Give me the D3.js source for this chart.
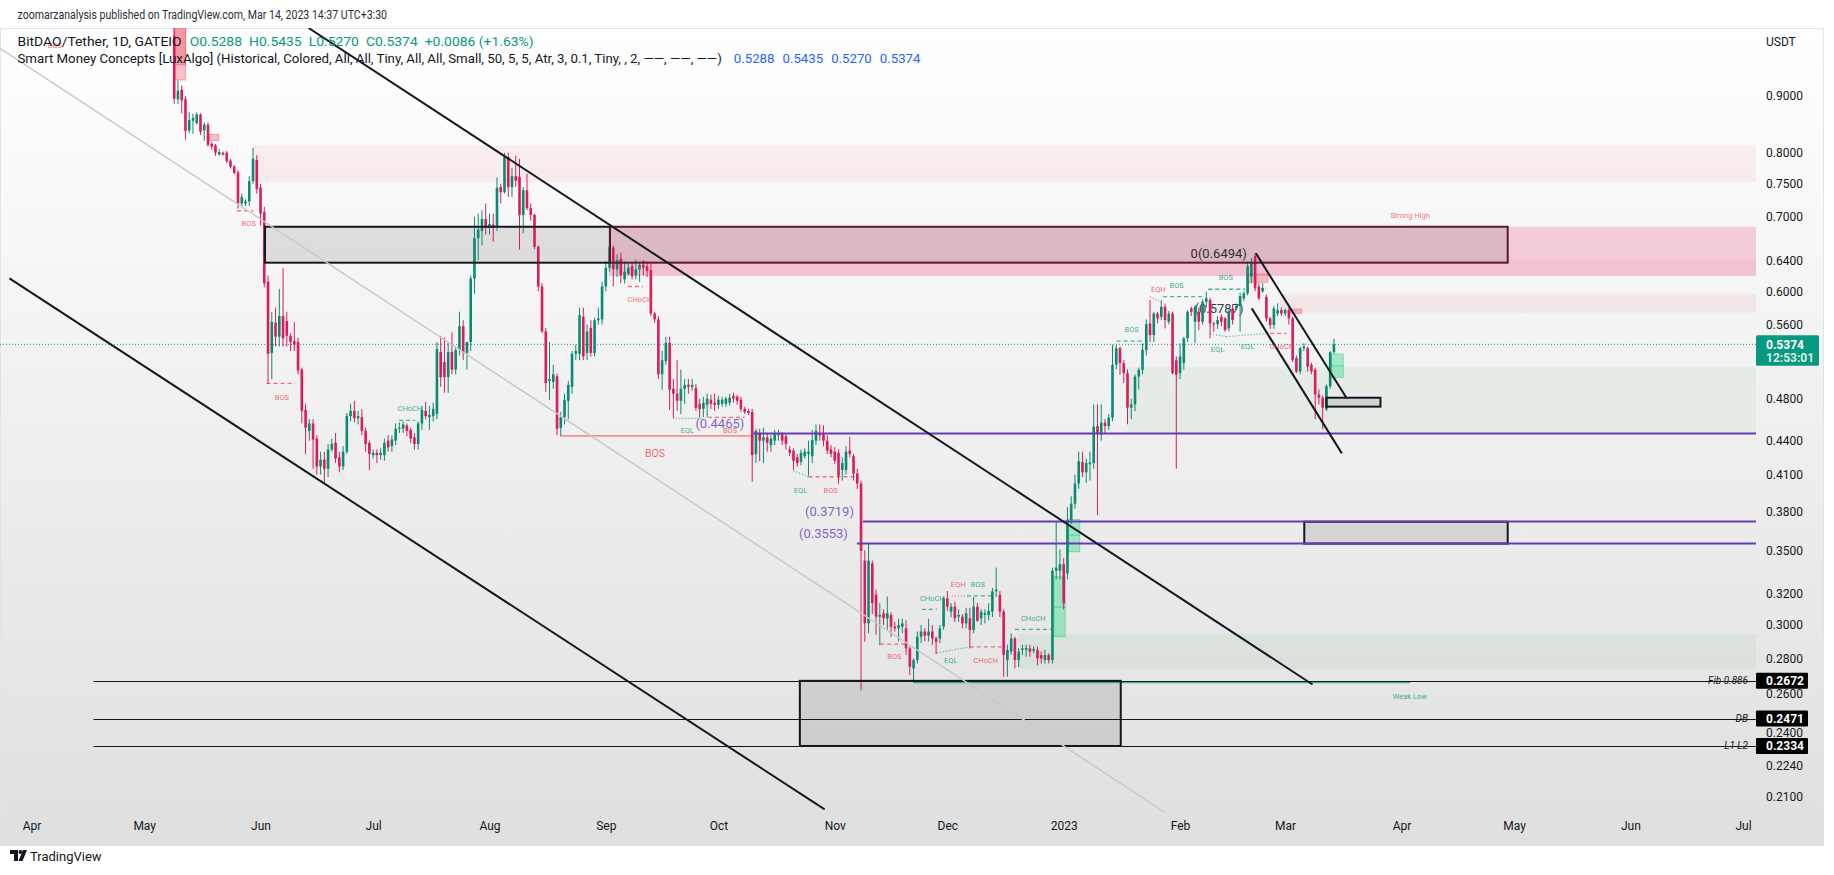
<!DOCTYPE html>
<html><head><meta charset="utf-8">
<script src="https://cdn.jsdelivr.net/npm/d3@7/dist/d3.min.js"></script>
<style>
html,body{margin:0;padding:0;background:#fff;}
svg{display:block;}
text{font-family:Roboto,"Noto Sans",Arial,sans-serif;}
</style></head><body>
<svg id="chart" width="1834" height="875"></svg>
<script>
// ---------------- DATA ----------------
const startDate = "2022-05-09";           // first daily bar
// daily candles [open, high, low, close]
const ohlc = [
[1.02,1.08,0.885,0.895],[0.894,0.93,0.885,0.91],[0.912,0.92,0.868,0.892],[0.894,0.90,0.822,0.837],[0.838,0.87,0.833,0.856],
[0.855,0.868,0.832,0.86],[0.851,0.87,0.848,0.866],[0.866,0.868,0.83,0.836],[0.838,0.852,0.82,0.848],[0.848,0.852,0.81,0.813],
[0.815,0.818,0.805,0.81],[0.812,0.815,0.795,0.80],[0.797,0.806,0.795,0.801],[0.80,0.802,0.795,0.797],[0.80,0.803,0.783,0.786],
[0.787,0.79,0.774,0.777],[0.777,0.78,0.765,0.767],[0.768,0.772,0.712,0.72],[0.72,0.735,0.715,0.73],[0.72,0.726,0.716,0.723],
[0.723,0.762,0.716,0.754],[0.754,0.808,0.75,0.79],[0.788,0.796,0.735,0.742],[0.744,0.75,0.688,0.705],[0.707,0.715,0.605,0.61],
[0.612,0.62,0.495,0.527],[0.528,0.575,0.50,0.563],[0.562,0.58,0.535,0.546],[0.546,0.603,0.535,0.57],[0.57,0.63,0.535,0.544],
[0.564,0.575,0.535,0.547],[0.547,0.55,0.53,0.54],[0.541,0.563,0.53,0.537],[0.54,0.545,0.505,0.509],[0.51,0.512,0.456,0.468],
[0.469,0.475,0.428,0.452],[0.449,0.46,0.44,0.456],[0.456,0.46,0.415,0.441],[0.442,0.445,0.41,0.417],[0.417,0.43,0.41,0.423],
[0.423,0.43,0.403,0.415],[0.415,0.437,0.408,0.432],[0.432,0.442,0.43,0.437],[0.438,0.447,0.42,0.424],[0.425,0.43,0.412,0.417],
[0.417,0.435,0.414,0.43],[0.43,0.466,0.428,0.463],[0.463,0.475,0.458,0.468],[0.468,0.478,0.457,0.461],[0.461,0.468,0.455,0.463],
[0.462,0.47,0.445,0.449],[0.449,0.452,0.43,0.437],[0.438,0.44,0.414,0.428],[0.427,0.432,0.424,0.429],[0.429,0.432,0.42,0.427],
[0.427,0.433,0.423,0.429],[0.427,0.442,0.422,0.438],[0.44,0.445,0.43,0.434],[0.435,0.445,0.43,0.441],[0.44,0.456,0.436,0.451],
[0.451,0.457,0.447,0.452],[0.451,0.458,0.447,0.455],[0.454,0.456,0.444,0.449],[0.45,0.452,0.438,0.442],[0.443,0.447,0.432,0.437],
[0.437,0.458,0.432,0.456],[0.456,0.473,0.45,0.469],[0.468,0.477,0.46,0.463],[0.462,0.473,0.45,0.464],[0.463,0.476,0.458,0.47],
[0.465,0.54,0.46,0.532],[0.529,0.547,0.492,0.502],[0.518,0.545,0.486,0.502],[0.502,0.54,0.486,0.529],[0.529,0.551,0.505,0.51],
[0.51,0.535,0.505,0.531],[0.531,0.575,0.525,0.558],[0.558,0.565,0.52,0.528],[0.528,0.535,0.51,0.54],[0.54,0.62,0.53,0.616],
[0.616,0.70,0.597,0.67],[0.67,0.705,0.64,0.682],[0.68,0.71,0.66,0.697],[0.697,0.72,0.675,0.685],[0.685,0.705,0.675,0.69],
[0.689,0.705,0.665,0.684],[0.686,0.76,0.68,0.744],[0.745,0.75,0.72,0.737],[0.737,0.80,0.735,0.793],[0.793,0.80,0.73,0.745],
[0.745,0.775,0.73,0.762],[0.762,0.795,0.745,0.755],[0.761,0.79,0.654,0.703],[0.703,0.745,0.677,0.74],[0.74,0.766,0.71,0.713],
[0.713,0.72,0.695,0.703],[0.703,0.705,0.655,0.658],[0.658,0.66,0.60,0.606],[0.606,0.61,0.55,0.552],[0.552,0.556,0.487,0.496],
[0.498,0.54,0.479,0.50],[0.497,0.515,0.49,0.505],[0.503,0.506,0.445,0.451],[0.452,0.467,0.4443,0.462],[0.462,0.485,0.455,0.479],
[0.478,0.498,0.46,0.494],[0.492,0.53,0.485,0.527],[0.527,0.537,0.52,0.53],[0.527,0.58,0.52,0.571],[0.569,0.58,0.52,0.524],
[0.528,0.56,0.52,0.552],[0.556,0.565,0.524,0.528],[0.528,0.568,0.524,0.565],[0.565,0.58,0.56,0.567],[0.566,0.612,0.56,0.606],
[0.606,0.638,0.60,0.63],[0.63,0.688,0.625,0.658],[0.657,0.66,0.606,0.628],[0.628,0.648,0.618,0.64],[0.642,0.65,0.61,0.62],
[0.615,0.638,0.61,0.625],[0.622,0.636,0.62,0.63],[0.632,0.637,0.615,0.619],[0.62,0.641,0.615,0.628],[0.628,0.637,0.612,0.634],
[0.634,0.64,0.62,0.63],[0.632,0.638,0.618,0.626],[0.627,0.635,0.57,0.573],[0.573,0.575,0.562,0.566],[0.566,0.57,0.50,0.505],
[0.505,0.53,0.489,0.52],[0.519,0.546,0.515,0.539],[0.539,0.546,0.469,0.489],[0.49,0.50,0.461,0.485],[0.485,0.52,0.468,0.478],
[0.478,0.51,0.465,0.49],[0.49,0.50,0.475,0.494],[0.494,0.50,0.485,0.492],[0.492,0.50,0.488,0.494],[0.491,0.495,0.468,0.471],
[0.475,0.48,0.462,0.47],[0.47,0.482,0.462,0.476],[0.474,0.485,0.462,0.48],[0.479,0.484,0.47,0.475],[0.476,0.485,0.468,0.474],
[0.474,0.483,0.47,0.479],[0.475,0.482,0.472,0.479],[0.475,0.482,0.472,0.48],[0.476,0.485,0.473,0.481],[0.483,0.486,0.476,0.48],
[0.482,0.484,0.474,0.478],[0.479,0.482,0.467,0.47],[0.47,0.472,0.465,0.467],[0.468,0.47,0.464,0.466],[0.467,0.47,0.404,0.427],
[0.428,0.451,0.42,0.449],[0.447,0.451,0.4215,0.44],[0.44,0.452,0.42,0.443],[0.443,0.446,0.43,0.438],[0.436,0.445,0.43,0.442],
[0.44,0.45,0.436,0.446],[0.445,0.45,0.44,0.447],[0.446,0.448,0.436,0.44],[0.444,0.446,0.432,0.437],[0.432,0.435,0.426,0.429],
[0.431,0.433,0.414,0.422],[0.425,0.428,0.417,0.42],[0.421,0.432,0.418,0.429],[0.426,0.433,0.424,0.43],[0.428,0.44,0.409,0.43],
[0.426,0.45,0.42,0.4405],[0.44,0.455,0.436,0.449],[0.447,0.455,0.44,0.445],[0.446,0.454,0.435,0.44],[0.44,0.445,0.428,0.431],
[0.432,0.436,0.425,0.428],[0.43,0.434,0.419,0.422],[0.429,0.432,0.402,0.409],[0.414,0.425,0.405,0.42],[0.414,0.435,0.41,0.43],
[0.431,0.4435,0.425,0.428],[0.426,0.428,0.405,0.411],[0.411,0.415,0.398,0.4025],[0.4025,0.405,0.262,0.35],[0.343,0.3505,0.2898,0.3011],
[0.3011,0.3555,0.295,0.343],[0.341,0.343,0.307,0.314],[0.3195,0.323,0.294,0.3053],[0.3053,0.3139,0.2878,0.3064],[0.3074,0.31,0.30,0.3042],
[0.3042,0.3184,0.297,0.3074],[0.3064,0.308,0.2928,0.299],[0.299,0.302,0.296,0.298],[0.298,0.304,0.29,0.30],[0.299,0.304,0.295,0.301],
[0.298,0.303,0.2819,0.2858],[0.2858,0.287,0.2704,0.2752],[0.2742,0.28,0.2662,0.279],[0.279,0.296,0.277,0.2928],[0.2928,0.30,0.289,0.296],
[0.296,0.298,0.29,0.2935],[0.2935,0.304,0.29,0.296],[0.296,0.30,0.288,0.2918],[0.2918,0.293,0.2824,0.2898],[0.2918,0.30,0.289,0.298],
[0.299,0.3184,0.297,0.3172],[0.3172,0.322,0.309,0.3117],[0.3085,0.314,0.305,0.3117],[0.3117,0.315,0.302,0.3042],[0.3053,0.31,0.302,0.3064],
[0.3053,0.307,0.298,0.3011],[0.3011,0.311,0.298,0.3074],[0.3042,0.311,0.2858,0.297],[0.297,0.318,0.295,0.3117],[0.3117,0.314,0.302,0.3027],
[0.3042,0.31,0.30,0.3085],[0.3064,0.31,0.301,0.3074],[0.3064,0.314,0.303,0.309],[0.3085,0.324,0.305,0.3217],[0.3217,0.338,0.318,0.323],
[0.3195,0.322,0.305,0.3085],[0.3085,0.31,0.2695,0.2819],[0.279,0.288,0.2695,0.2849],[0.2839,0.295,0.282,0.2918],[0.2918,0.2928,0.2742,0.279],
[0.279,0.286,0.275,0.2839],[0.2849,0.288,0.282,0.2858],[0.285,0.288,0.281,0.286],[0.2858,0.288,0.281,0.2839],[0.2845,0.287,0.283,0.2855],
[0.2849,0.287,0.276,0.28],[0.2819,0.284,0.277,0.28],[0.279,0.285,0.277,0.2819],[0.2819,0.283,0.277,0.279],[0.279,0.338,0.277,0.3358],
[0.3358,0.3717,0.33,0.338],[0.3358,0.351,0.33,0.3405],[0.3405,0.345,0.31,0.3139],[0.334,0.3833,0.33,0.3733],[0.3733,0.392,0.37,0.386],
[0.386,0.41,0.382,0.4025],[0.4025,0.43,0.398,0.4215],[0.421,0.43,0.408,0.412],[0.412,0.424,0.403,0.42],[0.419,0.43,0.405,0.4205],
[0.42,0.4744,0.415,0.453],[0.4536,0.4744,0.377,0.446],[0.446,0.4744,0.44,0.4567],[0.4567,0.46,0.446,0.4536],[0.4536,0.465,0.45,0.4615],
[0.4615,0.537,0.458,0.515],[0.515,0.5367,0.51,0.533],[0.533,0.535,0.5044,0.5168],[0.5168,0.52,0.496,0.5062],[0.5062,0.51,0.4552,0.4712],
[0.4712,0.48,0.46,0.4744],[0.4744,0.505,0.4679,0.5027],[0.5027,0.512,0.4893,0.5097],[0.5097,0.5385,0.505,0.5312],[0.5312,0.566,0.525,0.5603],
[0.5613,0.5891,0.54,0.5479],[0.5479,0.575,0.54,0.5729],[0.5729,0.575,0.5613,0.5671],[0.569,0.5891,0.565,0.581],[0.581,0.585,0.5555,0.5652],
[0.5632,0.576,0.56,0.5729],[0.5729,0.575,0.505,0.5062],[0.52,0.524,0.415,0.5044],[0.5062,0.5385,0.50,0.524],[0.5168,0.546,0.5097,0.5441],
[0.5441,0.577,0.54,0.575],[0.579,0.581,0.57,0.575],[0.5632,0.583,0.5385,0.581],[0.575,0.58,0.5536,0.5632],[0.5632,0.59,0.56,0.5871],
[0.5871,0.5995,0.58,0.5912],[0.5891,0.592,0.5441,0.5613],[0.5613,0.5632,0.5517,0.5603],[0.5603,0.57,0.555,0.5652],[0.569,0.572,0.558,0.5632],
[0.5671,0.569,0.5517,0.5536],[0.5555,0.578,0.552,0.575],[0.579,0.583,0.56,0.5652],[0.579,0.585,0.577,0.5818],[0.5818,0.598,0.5517,0.594],
[0.5912,0.60,0.588,0.5974],[0.5974,0.6384,0.595,0.632],[0.6185,0.643,0.61,0.636],[0.646,0.6494,0.60,0.6037],[0.6058,0.61,0.5891,0.5912],
[0.6,0.61,0.598,0.604],[0.593,0.596,0.5632,0.5671],[0.5671,0.569,0.555,0.5594],[0.5594,0.582,0.555,0.579],[0.5729,0.585,0.57,0.577],
[0.577,0.58,0.57,0.5729],[0.5729,0.579,0.57,0.577],[0.577,0.58,0.56,0.5671],[0.5671,0.569,0.518,0.5204],[0.5222,0.525,0.5062,0.5079],
[0.5079,0.535,0.505,0.533],[0.533,0.5385,0.53,0.5349],[0.533,0.535,0.5079,0.5132],[0.515,0.517,0.505,0.5079],[0.5097,0.512,0.4599,0.4843],
[0.4843,0.4893,0.4743,0.481],[0.481,0.483,0.4505,0.4712],[0.4695,0.4945,0.4679,0.4927],[0.4927,0.53,0.49,0.5288],[0.5288,0.5435,0.527,0.5374]
];
const xDomain = ["2022-03-23T14:00:00Z", "2023-07-04T11:00:00Z"];
const yDomain = [1.0365, 0.2035];
const monthTicks = ["2022-04-01","2022-05-01","2022-06-01","2022-07-01","2022-08-01","2022-09-01","2022-10-01","2022-11-01","2022-12-01","2023-01-01","2023-02-01","2023-03-01","2023-04-01","2023-05-01","2023-06-01","2023-07-01"];
const monthLabels = ["Apr","May","Jun","Jul","Aug","Sep","Oct","Nov","Dec","2023","Feb","Mar","Apr","May","Jun","Jul"];
const yTicks = [0.9,0.8,0.75,0.7,0.64,0.6,0.56,0.48,0.44,0.41,0.38,0.35,0.32,0.3,0.28,0.26,0.24,0.224,0.21];
const lastPrice = 0.5374, countdown = "12:53:01";
const headerText = "zoomarzanalysis published on TradingView.com, Mar 14, 2023 14:37 UTC+3:30";
const symbolText = "BitDAO/Tether, 1D, GATEIO";
const ohlcTexts = ["O0.5288","H0.5435","L0.5270","C0.5374","+0.0086 (+1.63%)"];
const indicatorText = "Smart Money Concepts [LuxAlgo] (Historical, Colored, All, All, Tiny, All, All, Small, 50, 5, 5, Atr, 3, 0.1, Tiny, , 2, \u2014\u2014, \u2014\u2014, \u2014\u2014)";
const indicatorValues = ["0.5288","0.5435","0.5270","0.5374"];
// SMC zones (bar index b1 .. b2 (null = extend right), price top/bottom)
const zones = [
 {b1:20.9, b2:null, top:0.8125, bot:0.7527, kind:"supplyLight"},
 {b1:294.6,b2:null, top:0.597,  bot:0.574,  kind:"supplyLight"},
 {b1:115.8,b2:null, top:0.686,  bot:0.6195, kind:"supply"},
 {b1:115.8,b2:null, top:0.641,  bot:0.6195, kind:"supply2"},
 {b1:224.8,b2:null, top:0.2945, bot:0.2738, kind:"demand"},
 {b1:254.1,b2:null, top:0.5129, bot:0.4465, kind:"demand"}
];
const fvgs = [
 {b1:234.4,b2:237.4,top:0.3317,bot:0.2928,mid:0.3114},
 {b1:238.0,b2:241.3,top:0.3736,bot:0.3493,mid:0.3616},
 {b1:308.4,b2:311.5,top:0.5267,bot:0.5018,mid:0.5139}
];
const orderBlocks = [
 {b1:-0.05,b2:3.06,top:1.04,bot:0.9304},
 {b1:-0.05,b2:3.06,top:1.04,bot:0.96},
 {b1:9.35,b2:11.86,top:0.8312,bot:0.8203},
 {b1:285.8,b2:291.4,top:0.6219,bot:0.6113},
 {b1:297.1,b2:300.4,top:0.5783,bot:0.5731}
];
// user rectangles
const boxes = [
 {b1:24.2, b2:116.1,top:0.686, bot:0.6367,stroke:"#131722"},
 {b1:116.1,b2:355.3,top:0.686, bot:0.6367,stroke:"#5a1a2c"},
 {b1:301.1,b2:355.3,top:0.3718,bot:0.3553,stroke:"#131722"},
 {b1:166.7,b2:252.2,top:0.2672,bot:0.2334,stroke:"#131722"},
 {b1:307.0,b2:321.4,top:0.481, bot:0.4722,stroke:"#131722"}
];
// user trend lines
const trendlines = [
 {b1:35.8, p1:1.0365,b2:303.3,p2:0.2652,kind:"black"},
 {b1:-43.9,p1:0.6162,b2:173.3,p2:0.2046,kind:"black"},
 {b1:-46.4,p1:0.9937,b2:263.7,p2:0.2036,kind:"grey"},
 {b1:288.2,p1:0.6492,b2:312.4,p2:0.4804,kind:"black"},
 {b1:287.1,p1:0.5791,b2:311.1,p2:0.4285,kind:"black"}
];
const levels = [
 {p:0.2672,b1:-21.5,label:"Fib 0.886"},
 {p:0.2471,b1:-21.5,label:"DB"},
 {p:0.2334,b1:-21.5,label:"L1 L2"}
];
const purpleLevels = [
 {p:0.4465,b1:154.3,label:"(0.4465)"},
 {p:0.3719,b1:183.5,label:"(0.3719)"},
 {p:0.3553,b1:181.9,label:"(0.3553)"}
];
const fibTexts = [
 {t:"0(0.6494)",b:285.8,p:0.6494,front:true},
 {t:"(0.5787)", b:284.9,p:0.5787,front:false}
];
// SMC structure lines
const structs = [
 {b1:16.8, b2:21.1, p1:0.7092,p2:0.7092,c:"bear",s:"dash"},
 {b1:24.6, b2:32.2, p1:0.4956,p2:0.4956,c:"bear",s:"dash"},
 {b1:59.9, b2:64.2, p1:0.459, p2:0.459, c:"bull",s:"dash"},
 {b1:120.9,b2:124.9,p1:0.606, p2:0.606, c:"bear",s:"dash"},
 {b1:102.8,b2:154.3,p1:0.4443,p2:0.4443,c:"bear",s:"solid"},
 {b1:133,  b2:141,  p1:0.4609,p2:0.4609,c:"bull",s:"dot"},
 {b1:142.2,b2:152,  p1:0.4618,p2:0.4618,c:"bear",s:"dash"},
 {b1:165,  b2:169,  p1:0.4133,p2:0.4082,c:"bull",s:"dot"},
 {b1:169,  b2:181.4,p1:0.4082,p2:0.4082,c:"bear",s:"dash"},
 {b1:188.1,b2:195.2,p1:0.2884,p2:0.2884,c:"bear",s:"dash"},
 {b1:199.2,b2:203.2,p1:0.3099,p2:0.3099,c:"bull",s:"dash"},
 {b1:207.2,b2:210.7,p1:0.3188,p2:0.3188,c:"bear",s:"dot"},
 {b1:211.2,b2:217.8,p1:0.3188,p2:0.3188,c:"bull",s:"dash"},
 {b1:203.2,b2:212,  p1:0.2832,p2:0.2867,c:"bull",s:"dot"},
 {b1:212,  b2:220.9,p1:0.2867,p2:0.2867,c:"bear",s:"dash"},
 {b1:224,  b2:233.8,p1:0.2973,p2:0.2973,c:"bull",s:"dash"},
 {b1:196.9,b2:329.3,p1:0.2662,p2:0.2662,c:"bull",s:"solid"},
 {b1:115.8,b2:329.3,p1:0.686, p2:0.686, c:"bear",s:"solid"},
 {b1:251.1,b2:258.2,p1:0.5411,p2:0.5411,c:"bull",s:"dash"},
 {b1:260,  b2:263.6,p1:0.5933,p2:0.585, c:"bear",s:"dot"},
 {b1:263.5,b2:273.8,p1:0.5933,p2:0.5933,c:"bull",s:"dash"},
 {b1:275.5,b2:285.3,p1:0.6025,p2:0.6025,c:"bull",s:"dash"},
 {b1:276,  b2:280.4,p1:0.549, p2:0.546, c:"bull",s:"dot"},
 {b1:280.4,b2:291,  p1:0.546, p2:0.5498,c:"bull",s:"dot"},
 {b1:292,  b2:296.4,p1:0.5498,p2:0.5498,c:"bear",s:"dash"}
];
const smcLabels = [
 {t:"BOS",b:-31.8,p:1.0006,c:"bear"},
 {t:"BOS",b:19.85,p:0.691,c:"bear"},
 {t:"BOS",b:28.7,p:0.4814,c:"bear"},
 {t:"CHoCH",b:62.8,p:0.4705,c:"bull"},
 {t:"CHoCH",b:124.1,p:0.59,c:"bear"},
 {t:"BOS",b:128.1,p:0.4285,c:"bear",big:true},
 {t:"EQL",b:136.7,p:0.4491,c:"bull"},
 {t:"BOS",b:148.1,p:0.4491,c:"bear"},
 {t:"EQL",b:166.9,p:0.3971,c:"bull"},
 {t:"BOS",b:174.9,p:0.3971,c:"bear"},
 {t:"BOS",b:191.9,p:0.2809,c:"bear"},
 {t:"CHoCH",b:202,p:0.3174,c:"bull"},
 {t:"EQH",b:208.9,p:0.3266,c:"bear"},
 {t:"BOS",b:214.1,p:0.3266,c:"bull"},
 {t:"EQL",b:206.9,p:0.2789,c:"bull"},
 {t:"CHoCH",b:216.2,p:0.2789,c:"bear"},
 {t:"CHoCH",b:228.9,p:0.3043,c:"bull"},
 {t:"Weak Low",b:329.2,p:0.2589,c:"bull"},
 {t:"Strong High",b:329.3,p:0.7019,c:"bear"},
 {t:"BOS",b:255.1,p:0.5543,c:"bull"},
 {t:"EQH",b:262.2,p:0.6025,c:"bear"},
 {t:"BOS",b:267.1,p:0.6074,c:"bull"},
 {t:"BOS",b:280.2,p:0.6176,c:"bull"},
 {t:"EQL",b:278,p:0.5319,c:"bull"},
 {t:"EQL",b:286,p:0.5347,c:"bull"},
 {t:"CHoCH",b:295.1,p:0.5347,c:"bear"}
];

// ---------------- LAYOUT / STYLE ----------------
const plotL=0, plotR=1756, plotT=28, plotB=812, frameR=1823, frameB=845;
const UP="#0a8a70", DN="#dc1a5c";
const BULL="rgba(8,153,129,0.8)", BEAR="rgba(242,54,69,0.75)";
const TXT="#131722";

const svg=d3.select("#chart");
const defs=svg.append("defs");
const grad=defs.append("linearGradient").attr("id","bg").attr("x1",0).attr("y1",0).attr("x2",0).attr("y2",1);
grad.append("stop").attr("offset","0%").attr("stop-color","#ffffff");
grad.append("stop").attr("offset","100%").attr("stop-color","#dfdfdf");
defs.append("clipPath").attr("id","clip").append("rect")
  .attr("x",plotL).attr("y",plotT).attr("width",plotR-plotL).attr("height",plotB-plotT);

svg.append("rect").attr("x",0.5).attr("y",plotT+0.5).attr("width",frameR).attr("height",frameB-plotT)
  .attr("fill","url(#bg)").attr("stroke","#e0e3eb");

const x=d3.scaleTime().domain(xDomain.map(s=>new Date(s))).range([plotL,plotR]);
const y=d3.scaleLog().domain(yDomain).range([plotT,plotB]);
const DAY=86400000, t0=Date.parse(startDate+"T00:00:00Z");
const bx=b=> b===null ? plotR : x(new Date(t0+b*DAY));

const plot=svg.append("g").attr("clip-path","url(#clip)");

// zones
const zoneFill={supplyLight:"rgba(242,54,69,0.07)",supply:"rgba(233,30,99,0.2)",supply2:"rgba(233,30,99,0.05)",demand:"rgba(76,175,80,0.07)"};
plot.append("g").selectAll("rect").data(zones).join("rect")
  .attr("x",d=>bx(d.b1)).attr("y",d=>y(d.top)).attr("width",d=>bx(d.b2)-bx(d.b1)).attr("height",d=>y(d.bot)-y(d.top))
  .attr("fill",d=>zoneFill[d.kind]);

// user boxes fill
plot.append("g").selectAll("rect").data(boxes).join("rect")
  .attr("x",d=>bx(d.b1)).attr("y",d=>y(d.top)).attr("width",d=>bx(d.b2)-bx(d.b1)).attr("height",d=>y(d.bot)-y(d.top))
  .attr("fill","rgba(120,120,120,0.2)");

// fvg boxes
const fg=plot.append("g");
fg.selectAll("rect").data(fvgs).join("rect")
  .attr("x",d=>bx(d.b1)).attr("y",d=>y(d.top)).attr("width",d=>bx(d.b2)-bx(d.b1)).attr("height",d=>y(d.bot)-y(d.top))
  .attr("fill","rgba(0,220,110,0.33)").attr("stroke","rgba(0,190,100,0.45)").attr("stroke-width",0.8);
fg.selectAll("line").data(fvgs).join("line")
  .attr("x1",d=>bx(d.b1)).attr("x2",d=>bx(d.b2)).attr("y1",d=>y(d.mid)).attr("y2",d=>y(d.mid))
  .attr("stroke","rgba(0,190,100,0.5)").attr("stroke-width",1);

// order blocks
plot.append("g").selectAll("rect").data(orderBlocks).join("rect")
  .attr("x",d=>bx(d.b1)).attr("y",d=>y(d.top)).attr("width",d=>bx(d.b2)-bx(d.b1)).attr("height",d=>y(d.bot)-y(d.top))
  .attr("fill","rgba(242,54,69,0.3)").attr("stroke","rgba(242,54,69,0.45)").attr("stroke-width",0.8);

// fib text behind candles
const fibG=plot.append("g");
fibG.selectAll("text").data(fibTexts.filter(d=>!d.front)).join("text")
  .attr("x",d=>bx(d.b)).attr("y",d=>y(d.p)).attr("dy","0.35em").attr("text-anchor","end")
  .attr("font-size",13).attr("fill","#3a3d46").text(d=>d.t);

// current price dotted line
plot.append("line").attr("x1",plotL).attr("x2",plotR).attr("y1",y(lastPrice)).attr("y2",y(lastPrice))
  .attr("stroke","#089981").attr("stroke-width",1).attr("stroke-dasharray","1,2");

// SMC structure lines
const dashOf={dash:"4,3",dot:"1,2",solid:null};
plot.append("g").selectAll("line").data(structs).join("line")
  .attr("x1",d=>bx(d.b1)).attr("x2",d=>bx(d.b2)).attr("y1",d=>y(d.p1)).attr("y2",d=>y(d.p2))
  .attr("stroke",d=>d.c==="bull"?"rgba(8,153,129,0.75)":"rgba(242,54,69,0.7)")
  .attr("stroke-width",d=>d.s==="solid"?1.2:1.3)
  .attr("stroke-dasharray",d=>dashOf[d.s]);

// candles
const cw=2.6;
const cg=plot.append("g");
const cdata=ohlc.map((d,i)=>({i,o:d[0],h:d[1],l:d[2],c:d[3]}));
cg.selectAll("line").data(cdata).join("line")
  .attr("x1",d=>bx(d.i)).attr("x2",d=>bx(d.i)).attr("y1",d=>y(d.h)).attr("y2",d=>y(d.l))
  .attr("stroke",d=>d.c>=d.o?UP:DN).attr("stroke-width",1);
cg.selectAll("rect").data(cdata).join("rect")
  .attr("x",d=>bx(d.i)-cw/2).attr("y",d=>y(Math.max(d.o,d.c)))
  .attr("width",cw).attr("height",d=>Math.max(1,y(Math.min(d.o,d.c))-y(Math.max(d.o,d.c))))
  .attr("fill",d=>d.c>=d.o?UP:DN);

// user box borders
plot.append("g").selectAll("rect").data(boxes).join("rect")
  .attr("x",d=>bx(d.b1)).attr("y",d=>y(d.top)).attr("width",d=>bx(d.b2)-bx(d.b1)).attr("height",d=>y(d.bot)-y(d.top))
  .attr("fill","none").attr("stroke",d=>d.stroke).attr("stroke-width",2);

// horizontal levels
const lg=plot.append("g");
lg.selectAll("line").data(levels).join("line")
  .attr("x1",d=>bx(d.b1)).attr("x2",plotR).attr("y1",d=>Math.round(y(d.p))+0.5).attr("y2",d=>Math.round(y(d.p))+0.5)
  .attr("stroke",TXT).attr("stroke-width",1);

// purple lines
const pg=plot.append("g");
pg.selectAll("line").data(purpleLevels).join("line")
  .attr("x1",d=>bx(d.b1)).attr("x2",plotR).attr("y1",d=>y(d.p)).attr("y2",d=>y(d.p))
  .attr("stroke","#673ab7").attr("stroke-width",2);
pg.selectAll("text").data(purpleLevels).join("text")
  .attr("x",d=>bx(d.b1)-9).attr("y",d=>y(d.p)-10.5).attr("dy","0.35em").attr("text-anchor","end")
  .attr("font-size",13).attr("fill","rgba(103,58,183,0.8)").text(d=>d.label);

// trend lines
plot.append("g").selectAll("line").data(trendlines).join("line")
  .attr("x1",d=>bx(d.b1)).attr("x2",d=>bx(d.b2)).attr("y1",d=>y(d.p1)).attr("y2",d=>y(d.p2))
  .attr("stroke",d=>d.kind==="grey"?"#c9c9c9":TXT).attr("stroke-width",d=>d.kind==="grey"?1.5:2);

// fib text front
plot.append("g").selectAll("text").data(fibTexts.filter(d=>d.front)).join("text")
  .attr("x",d=>bx(d.b)).attr("y",d=>y(d.p)).attr("dy","0.35em").attr("text-anchor","end")
  .attr("font-size",13).attr("fill","#2a2d36").text(d=>d.t);
fibG.lower();

// SMC labels
plot.append("g").selectAll("text").data(smcLabels).join("text")
  .attr("x",d=>bx(d.b)).attr("y",d=>y(d.p)).attr("dy","0.35em").attr("text-anchor","middle")
  .attr("font-size",d=>d.big?10.5:7.5).attr("fill",d=>d.c==="bull"?BULL:BEAR).text(d=>d.t);

// level labels (left of price axis)
const ll=svg.append("g");
ll.selectAll("text").data(levels).join("text")
  .attr("x",plotR-8).attr("y",d=>y(d.p)).attr("dy","0.35em").attr("text-anchor","end")
  .attr("font-size",10).attr("font-style","italic").attr("fill",TXT).text(d=>d.label);
ll.selectAll("line").data(levels).join("line")
  .attr("x1",plotR-6).attr("x2",plotR-1).attr("y1",d=>Math.round(y(d.p))+0.5).attr("y2",d=>Math.round(y(d.p))+0.5)
  .attr("stroke",TXT).attr("stroke-width",1);

// ---------------- AXES ----------------
const yAxis=d3.axisRight(y).tickValues(yTicks).tickFormat(d3.format(".4f")).tickSize(0).tickPadding(10);
const yg=svg.append("g").attr("transform",`translate(${plotR},0)`).call(yAxis);
yg.select(".domain").remove();
yg.selectAll("text").attr("font-size",12).attr("fill",TXT).attr("font-family","Roboto");

const xAxis=d3.axisBottom(x).tickValues(monthTicks.map(s=>new Date(s+"T00:00:00Z")))
  .tickFormat((d,i)=>monthLabels[i]).tickSize(0).tickPadding(9);
const xg=svg.append("g").attr("transform",`translate(0,${plotB})`).call(xAxis);
xg.select(".domain").remove();
xg.selectAll("text").attr("font-size",12).attr("fill",TXT).attr("font-family","Roboto");

// price tags
const tg=svg.append("g");
tg.append("rect").attr("x",plotR).attr("y",y(lastPrice)-9).attr("width",63).attr("height",30.5).attr("rx",1.5).attr("fill","#089981");
tg.append("text").attr("x",plotR+10).attr("y",y(lastPrice)).attr("dy","0.35em").attr("font-size",12).attr("font-weight","bold").attr("fill","#fff").text(d3.format(".4f")(lastPrice));
tg.append("text").attr("x",plotR+10).attr("y",y(lastPrice)+13.5).attr("dy","0.35em").attr("font-size",12).attr("font-weight","bold").attr("fill","rgba(255,255,255,0.85)").text(countdown);
tg.selectAll("rect.lv").data(levels).join("rect").attr("class","lv")
  .attr("x",plotR).attr("y",d=>y(d.p)-8).attr("width",52).attr("height",16).attr("rx",1).attr("fill","#000");
tg.selectAll("text.lv").data(levels).join("text").attr("class","lv")
  .attr("x",plotR+10).attr("y",d=>y(d.p)).attr("dy","0.35em").attr("font-size",12).attr("font-weight","bold").attr("fill","#fff")
  .text(d=>d3.format(".4f")(d.p));

// ---------------- HEADER ----------------
function seq(g,x0,yy,parts,size,k){
  let xx=x0;
  parts.forEach(p=>{
    const t=g.append("text").attr("x",xx).attr("y",yy).attr("font-size",size).attr("fill",p.c).text(p.t);
    const L=t.node().getComputedTextLength()*k;
    t.attr("textLength",L).attr("lengthAdjust","spacingAndGlyphs");
    xx+=L+(p.gap||0);
  });
  return xx;
}
const hg=svg.append("g");
seq(hg,17.5,18.5,[{t:headerText,c:"#2a2e39"}],12,0.88);
seq(hg,17.5,46,[{t:symbolText,c:TXT,gap:8}].concat(ohlcTexts.map(t=>({t,c:"#089981",gap:7}))),13.5,1.03);
seq(hg,17.5,63,[{t:indicatorText,c:TXT,gap:12}].concat(indicatorValues.map(t=>({t,c:"#2962ff",gap:8}))),13.5,0.98);
hg.append("text").attr("x",plotR+10).attr("y",45.5).attr("font-size",12).attr("fill",TXT).text("USDT");

// footer logo
const fl=svg.append("g").attr("transform","translate(10,850)");
fl.append("path").attr("d","M0 0 H8 V11 H4 V4 H0 Z").attr("fill",TXT);
fl.append("circle").attr("cx",10.5).attr("cy",2).attr("r",2).attr("fill",TXT);
fl.append("path").attr("d","M13 0 H17 L12.5 11 H8.5 Z").attr("fill",TXT);
fl.append("text").attr("x",20).attr("y",10.5).attr("font-size",13).attr("fill",TXT).text("TradingView");
</script>
</body></html>
